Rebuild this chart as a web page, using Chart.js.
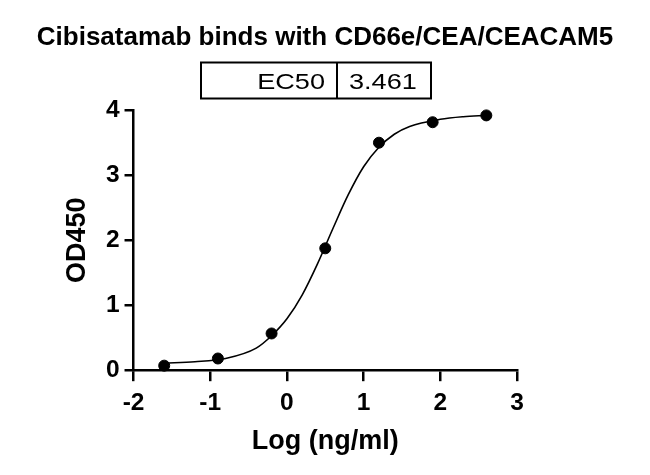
<!DOCTYPE html>
<html>
<head>
<meta charset="utf-8">
<script src="https://cdn.jsdelivr.net/npm/chart.js@4.4.1/dist/chart.umd.min.js"></script>
<style>
  html, body { margin: 0; padding: 0; background: #fff; }
  #wrap { width: 650px; height: 475px; }
</style>
</head>
<body>
<div id="wrap"><canvas id="c" width="650" height="475"></canvas></div>
<script>
// ---- data ----
const titleText = "Cibisatamab binds with CD66e/CEA/CEACAM5";
const xTitle = "Log (ng/ml)";
const yTitle = "OD450";
const ec50Label = "EC50";
const ec50Value = "3.461";

// measured points
const doseLog = [-1.6, -0.9, -0.2, 0.5, 1.2, 1.9, 2.6];
const od450   = [0.07, 0.18, 0.565, 1.875, 3.50, 3.815, 3.92];

// fitted curve
const curveX = [-1.6, -1.2, -0.8, -0.4, -0.2, 0.0, 0.2, 0.4, 0.6, 0.8, 1.0, 1.2, 1.4, 1.6, 2.0, 2.3, 2.6];
const curveY = [0.11, 0.13, 0.18, 0.34, 0.53, 0.79, 1.16, 1.64, 2.18, 2.70, 3.13, 3.43, 3.63, 3.75, 3.86, 3.90, 3.92];

// axis ranges / ticks
const xMin = -2, xMax = 3, xStep = 1;
const yMin = 0, yMax = 4, yStep = 1;

const FONT = "Arial, Helvetica, sans-serif";

const ec50Box = {
  id: 'ec50Box',
  afterDraw(chart) {
    const ctx = chart.ctx;
    ctx.save();
    const left = 201, right = 431, mid = 337, top = 62.5, bottom = 98.5;
    ctx.strokeStyle = '#000';
    ctx.lineWidth = 2;
    ctx.strokeRect(left, top, right - left, bottom - top);
    ctx.beginPath();
    ctx.moveTo(mid, top);
    ctx.lineTo(mid, bottom);
    ctx.stroke();
    ctx.fillStyle = '#000';
    ctx.font = "21.5px " + FONT;
    ctx.textBaseline = 'alphabetic';
    const sx = 1.26;
    ctx.save();
    ctx.translate(325, 88.5);
    ctx.scale(sx, 1);
    ctx.textAlign = 'right';
    ctx.fillText(ec50Label, 0, 0);
    ctx.restore();
    ctx.save();
    ctx.translate(349, 88.5);
    ctx.scale(sx, 1);
    ctx.textAlign = 'left';
    ctx.fillText(ec50Value, 0, 0);
    ctx.restore();
    ctx.restore();
  }
};

new Chart(document.getElementById('c'), {
  type: 'scatter',
  data: {
    datasets: [
      {
        label: 'fit',
        type: 'line',
        data: curveX.map((x, i) => ({ x: x, y: curveY[i] })),
        borderColor: '#000',
        borderWidth: 1.6,
        pointRadius: 0,
        fill: false,
        cubicInterpolationMode: 'monotone',
        clip: false
      },
      {
        label: 'data',
        data: doseLog.map((x, i) => ({ x: x, y: od450[i] })),
        backgroundColor: '#000',
        borderColor: '#000',
        pointRadius: 5.5,
        pointHoverRadius: 5.5,
        clip: false
      }
    ]
  },
  options: {
    responsive: false,
    animation: false,
    devicePixelRatio: 1,
    layout: { padding: { left: 0, right: 0, top: 0, bottom: 17 } },
    plugins: {
      legend: { display: false },
      tooltip: { enabled: false },
      title: {
        display: true,
        text: titleText,
        color: '#000',
        font: { family: FONT, size: 26, weight: 'bold' },
        padding: { top: 22.5, bottom: 56.5 }
      }
    },
    scales: {
      x: {
        type: 'linear',
        min: xMin, max: xMax,
        ticks: {
          stepSize: xStep,
          color: '#000',
          font: { family: FONT, size: 24.5, weight: 'bold' },
          padding: 7
        },
        grid: { drawOnChartArea: false, drawTicks: true, tickLength: 11, color: '#000', lineWidth: 2.5 },
        border: { display: true, color: '#000', width: 2.5 },
        title: {
          display: true, text: xTitle, color: '#000',
          font: { family: FONT, size: 27, weight: 'bold' },
          padding: { top: 1, bottom: 0 }
        }
      },
      y: {
        type: 'linear',
        min: yMin, max: yMax,
        ticks: {
          stepSize: yStep,
          color: '#000',
          font: { family: FONT, size: 24.5, weight: 'bold' },
          padding: 5
        },
        grid: { drawOnChartArea: false, drawTicks: true, tickLength: 9, color: '#000', lineWidth: 2.5 },
        border: { display: true, color: '#000', width: 2.5 },
        title: {
          display: true, text: yTitle, color: '#000',
          font: { family: FONT, size: 27, weight: 'bold' },
          padding: { top: 61, bottom: 7.5 }
        }
      },
      spacer: {
        type: 'linear',
        position: 'right',
        min: yMin, max: yMax,
        display: true,
        ticks: { display: false },
        grid: { display: false, drawTicks: false },
        border: { display: false },
        afterFit(scale) { scale.width = 133; }
      }
    }
  },
  plugins: [ec50Box]
});
</script>
</body>
</html>
